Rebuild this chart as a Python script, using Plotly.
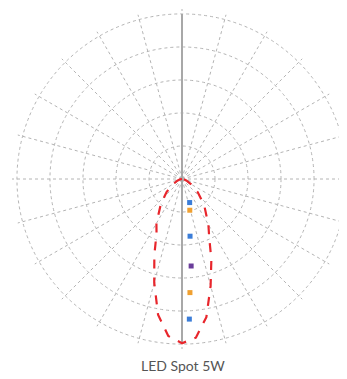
import plotly.graph_objects as go

# Light distribution (cd) vs angle from nadir (degrees)
angles = [-90, -80, -70, -60, -50, -40, -30, -25, -20, -15, -10, -5, 0,
          5, 10, 15, 20, 25, 30, 40, 50, 60, 70, 80, 90]
intensity = [0, 12, 30, 61, 121, 200, 310, 365, 490, 650, 835, 955, 995,
             965, 850, 670, 520, 390, 320, 210, 125, 62, 30, 12, 0]

radial_max = 1000
title_text = "LED Spot 5W"

# small colored value markers beside the axis
mark_r = [150, 195, 350, 530, 690, 850]
mark_theta = [18, 14, 8, 6, 4, 3]
mark_colors = ["#3b7dd8", "#f0a030", "#3b7dd8", "#6a3d9a", "#f0a030", "#3b7dd8"]

fig = go.Figure()

# vertical axis line
fig.add_trace(go.Scatterpolar(
    r=[0, radial_max], theta=[0, 0], mode="lines",
    line=dict(color="#a8a8a8", width=2), showlegend=False, hoverinfo="skip"))
fig.add_trace(go.Scatterpolar(
    r=[0, radial_max], theta=[180, 180], mode="lines",
    line=dict(color="#a8a8a8", width=2), showlegend=False, hoverinfo="skip"))

fig.add_trace(go.Scatterpolar(
    r=intensity, theta=angles, mode="lines",
    line=dict(color="#e8262c", width=2.2, dash="dash"),
    showlegend=False))

fig.add_trace(go.Scatterpolar(
    r=mark_r, theta=mark_theta, mode="markers",
    marker=dict(color=mark_colors, size=5, symbol="square"),
    showlegend=False))

fig.update_layout(
    width=347, height=379,
    margin=dict(l=0, r=0, t=0, b=0),
    paper_bgcolor="white",
    polar=dict(
        domain=dict(x=[4/347, 344/347], y=[38/379, 378/379]),
        bgcolor="white",
        angularaxis=dict(
            rotation=-90, direction="counterclockwise",
            tickmode="array", tickvals=list(range(0, 360, 15)),
            showticklabels=False, ticks="",
            gridcolor="#b4b4b4", griddash="dot", gridwidth=1.3,
            showline=False),
        radialaxis=dict(
            range=[0, radial_max * 1.03], angle=180,
            tickvals=[200, 400, 600, 800, 1000],
            showticklabels=False, ticks="",
            gridcolor="#b4b4b4", griddash="dot", gridwidth=1.3,
            showline=False),
    ),
    annotations=[dict(
        text=title_text, x=0.505, y=22/379, xref="paper", yref="paper",
        xanchor="center", yanchor="middle", showarrow=False,
        font=dict(family="Lato, Arial", size=14, color="#555555"))],
)

fig.write_html("out.html")
